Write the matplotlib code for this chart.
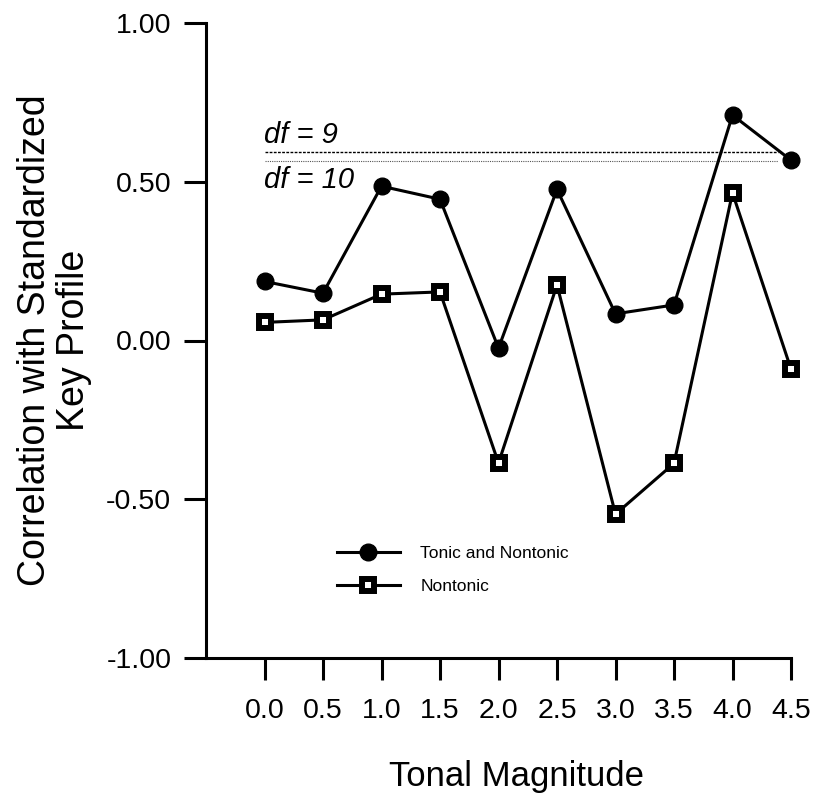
import matplotlib
matplotlib.use("Agg")
import matplotlib.pyplot as plt

plt.rcParams['font.family'] = ['Liberation Sans', 'DejaVu Sans']

tonal_magnitude = [0.0, 0.5, 1.0, 1.5, 2.0, 2.5, 3.0, 3.5, 4.0, 4.5]
tonic_and_nontonic = [0.186, 0.149, 0.486, 0.445, -0.024, 0.476, 0.084, 0.112, 0.710, 0.568]
nontonic = [0.057, 0.065, 0.146, 0.153, -0.386, 0.175, -0.547, -0.387, 0.465, -0.090]
x_tick_labels = ["0.0", "0.5", "1.0", "1.5", "2.0", "2.5", "3.0", "3.5", "4.0", "4.5"]
y_ticks = [-1.0, -0.5, 0.0, 0.5, 1.0]
y_tick_labels = ["-1.00", "-0.50", "0.00", "0.50", "1.00"]
crit_df9 = 0.595
crit_df10 = 0.565

fig = plt.figure(figsize=(8.14, 7.97), dpi=100)
ax = fig.add_axes([206/814, 1-658/797, (791-206)/814, (658-23)/797])

ax.hlines(crit_df9, 0.0, 4.39, colors='black', linewidth=1.0, linestyles=(0, (2, 1)))
ax.hlines(crit_df10, 0.0, 4.39, colors='#555555', linewidth=0.8, linestyles=(0, (1, 1)))
ax.text(0.0, 0.623, "df = 9", fontsize=21, style='italic', ha='left', va='baseline')
ax.text(0.0, 0.479, "df = 10", fontsize=21, style='italic', ha='left', va='baseline')

ax.plot(tonal_magnitude, tonic_and_nontonic, color='black', linewidth=2.2,
        marker='o', markersize=12, markerfacecolor='black', markeredgecolor='black',
        label='Tonic and Nontonic', zorder=3, clip_on=False)
ax.plot(tonal_magnitude, nontonic, color='black', linewidth=2.2,
        marker='s', markersize=8.7, markerfacecolor='white', markeredgecolor='black',
        markeredgewidth=4.3, label='Nontonic', zorder=4, clip_on=False)

ax.set_xlim(-0.5, 4.5)
ax.set_ylim(-1.0, 1.0)
ax.set_xticks(tonal_magnitude)
ax.set_xticklabels(x_tick_labels)
ax.set_yticks(y_ticks)
ax.set_yticklabels(y_tick_labels)

for s in ['top', 'right']:
    ax.spines[s].set_visible(False)
for s in ['left', 'bottom']:
    ax.spines[s].set_linewidth(2.2)
ax.tick_params(direction='out', length=16, width=2.2, labelsize=20.5)
ax.tick_params(axis='x', pad=13)
ax.tick_params(axis='y', pad=9)

ax.set_xlabel("Tonal Magnitude", fontsize=25, labelpad=26)
ax.xaxis.label.set_x(0.53)
ax.set_ylabel("Correlation with Standardized\nKey Profile", fontsize=27, labelpad=10, linespacing=1.1)

leg = ax.legend(loc='center left', bbox_to_anchor=(0.224, 0.139), frameon=False,
                fontsize=12.5, handlelength=3.6, handletextpad=1.2, labelspacing=1.05,
                borderpad=0, borderaxespad=0)

fig.savefig("out.png", dpi=100)
